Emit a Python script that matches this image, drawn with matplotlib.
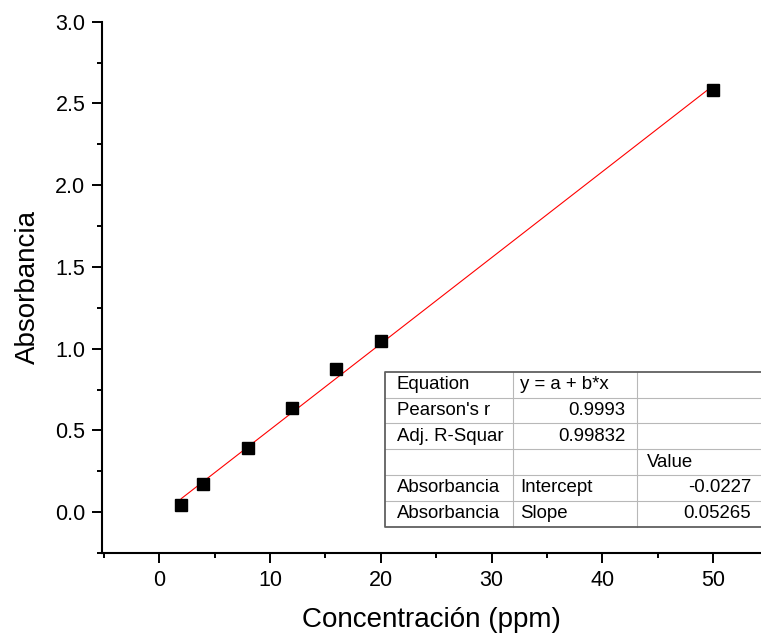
import matplotlib
matplotlib.use("Agg")
import matplotlib.pyplot as plt
import numpy as np
from matplotlib.ticker import MultipleLocator, FormatStrFormatter

plt.rcParams["font.family"] = ["Liberation Sans", "DejaVu Sans"]

# calibration data
conc = [2, 4, 8, 12, 16, 20, 50]
absorb = [0.043, 0.175, 0.39, 0.636, 0.873, 1.046, 2.585]

# fit results shown in the table
intercept = -0.0227
slope = 0.05265

table_rows = [
    ["Equation", "y = a + b*x", ""],
    ["Pearson's r", "0.9993", ""],
    ["Adj. R-Squar", "0.99832", ""],
    ["", "", "Value"],
    ["Absorbancia", "Intercept", "-0.0227"],
    ["Absorbancia", "Slope", "0.05265"],
]
# alignment of each cell
table_align = [
    ["l", "l", "l"],
    ["l", "r", "l"],
    ["l", "r", "l"],
    ["l", "l", "l"],
    ["l", "l", "r"],
    ["l", "l", "r"],
]

W, H = 761, 641
fig = plt.figure(figsize=(W / 100, H / 100), dpi=100)
ax = fig.add_axes([102 / W, (H - 553) / H, (W - 102) / W, (553 - 21.7) / H])

ax.plot(conc, absorb, "s", color="black", markersize=8.5, zorder=3)
xfit = np.array([conc[0], conc[-1]])
ax.plot(xfit, intercept + slope * xfit, color="red", linewidth=0.8, zorder=2)

ax.set_xlim(-5.15, 54.3)
ax.set_ylim(-0.25, 3.0)
ax.xaxis.set_major_locator(MultipleLocator(10))
ax.xaxis.set_minor_locator(MultipleLocator(5))
ax.yaxis.set_major_locator(MultipleLocator(0.5))
ax.yaxis.set_minor_locator(MultipleLocator(0.25))
ax.yaxis.set_major_formatter(FormatStrFormatter("%.1f"))

for s in ["top", "right"]:
    ax.spines[s].set_visible(False)
for s in ["left", "bottom"]:
    ax.spines[s].set_linewidth(1.5)

ax.tick_params(which="major", direction="out", length=7, width=1.4, labelsize=15.5, pad=5)
ax.tick_params(which="minor", direction="out", length=3.5, width=1.4)

ax.set_xlabel("Concentración (ppm)", fontsize=20, labelpad=12)
ax.set_ylabel("Absorbancia", fontsize=20, labelpad=10)

# fit table, drawn in pixel coordinates
tab = fig.add_axes([0, 0, 1, 1], facecolor="none")
tab.set_xlim(0, W)
tab.set_ylim(H, 0)
tab.axis("off")

x0, x1, x2, x3 = 385, 513.3, 636.7, 762
y_top, y_bot = 371.7, 526.7
nrow = len(table_rows)
row_h = (y_bot - y_top) / nrow
col_edges = [x0, x1, x2, x3]
left_pad = [12, 7, 10]

tab.add_patch(plt.Rectangle((x0, y_top), x3 - x0, y_bot - y_top,
                            facecolor="white", edgecolor="none", zorder=1))
for i in range(1, nrow):
    yy = y_top + i * row_h
    tab.plot([x0, x3], [yy, yy], color="#b8b8b8", linewidth=0.8, zorder=2)
for xx in [x1, x2]:
    tab.plot([xx, xx], [y_top, y_bot], color="#b8b8b8", linewidth=0.8, zorder=2)
tab.plot([x3, x0, x0, x3], [y_top, y_top, y_bot, y_bot], color="#606060",
         linewidth=1.3, zorder=3)

for i, row in enumerate(table_rows):
    yc = y_top + (i + 0.5) * row_h
    for j, txt in enumerate(row):
        if table_align[i][j] == "l":
            tab.text(col_edges[j] + left_pad[j], yc, txt, ha="left", va="center", fontsize=13.4, zorder=4)
        else:
            tab.text(col_edges[j + 1] - 11, yc, txt, ha="right", va="center", fontsize=13.4, zorder=4)

fig.savefig("out.png", dpi=100)
